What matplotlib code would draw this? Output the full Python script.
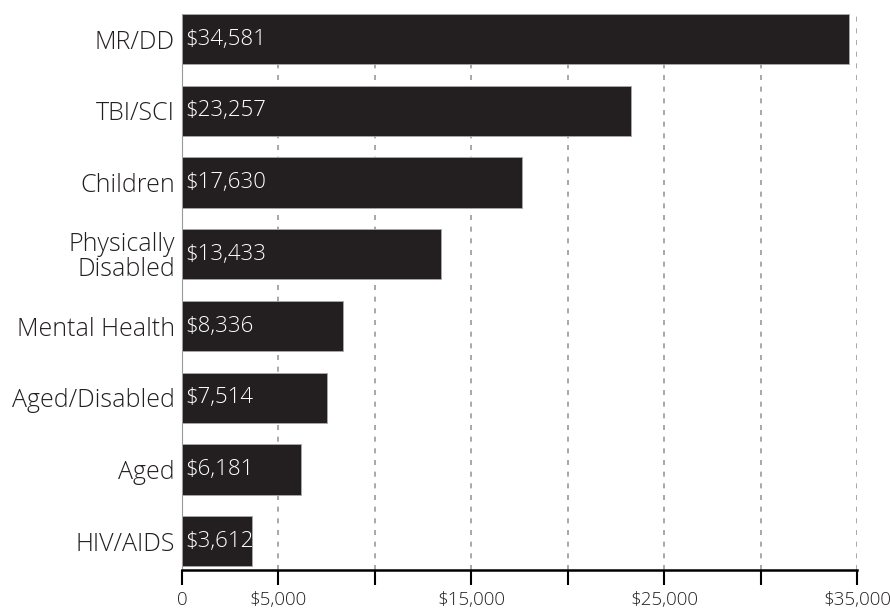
import matplotlib.pyplot as plt
from matplotlib import font_manager
from matplotlib.ticker import FixedLocator, FuncFormatter

# prefer a light sans weight if one is installed
installed = {(f.name, f.weight) for f in font_manager.fontManager.ttflist}
family, weight = 'Open Sans', 'normal'
for name in ['Open Sans', 'Noto Sans', 'Roboto']:
    if (name, 300) in installed:
        family, weight = name, 300
        break

plt.rcParams['font.family'] = [family, 'DejaVu Sans']
plt.rcParams['font.weight'] = weight
plt.rcParams['text.color'] = '#231f20'
plt.rcParams['xtick.labelcolor'] = '#231f20'
plt.rcParams['ytick.labelcolor'] = '#231f20'

categories = ['MR/DD', 'TBI/SCI', 'Children', 'Physically\nDisabled',
              'Mental Health', 'Aged/Disabled', 'Aged', 'HIV/AIDS']
values = [34581, 23257, 17630, 13433, 8336, 7514, 6181, 3612]
tick_values = [0, 5000, 10000, 15000, 20000, 25000, 30000, 35000]
labelled_ticks = [0, 5000, 15000, 25000, 35000]

bar_color = '#231f20'

fig = plt.figure(figsize=(8.9, 6.15), dpi=100)
ax = fig.add_axes([182 / 890, 45 / 615, 675 / 890, 556 / 615])

y = list(range(len(categories)))
ax.barh(y, values, height=0.7, color=bar_color, edgecolor='#aaaaaa',
        linewidth=0.6, zorder=3)

for yi, v in zip(y, values):
    ax.text(150, yi, f'${v:,}', color='white', va='center', ha='left',
            fontsize=16, zorder=4)

ax.set_xlim(0, 35000)
ax.set_ylim(7.4, -0.35)

ax.xaxis.set_major_locator(FixedLocator(tick_values))
ax.xaxis.set_major_formatter(FuncFormatter(
    lambda x, pos: ('0' if x == 0 else f'${int(x):,}') if x in labelled_ticks else ''))
ax.tick_params(axis='x', direction='out', length=11, width=1.5, labelsize=13.5,
               color='black', pad=4)

ax.set_yticks(y)
ax.set_yticklabels(categories, fontsize=18, linespacing=1.0)
ax.tick_params(axis='y', length=0, pad=5)

for x in tick_values[1:]:
    ax.axvline(x, color='#999999', linestyle=(0, (3, 4)), linewidth=1.2, zorder=1)

for s in ['top', 'right']:
    ax.spines[s].set_visible(False)
ax.spines['left'].set_color('#999999')
ax.spines['left'].set_linewidth(0.8)
ax.spines['bottom'].set_linewidth(1.8)
ax.spines['bottom'].set_zorder(5)

fig.savefig('out.png', dpi=100)
